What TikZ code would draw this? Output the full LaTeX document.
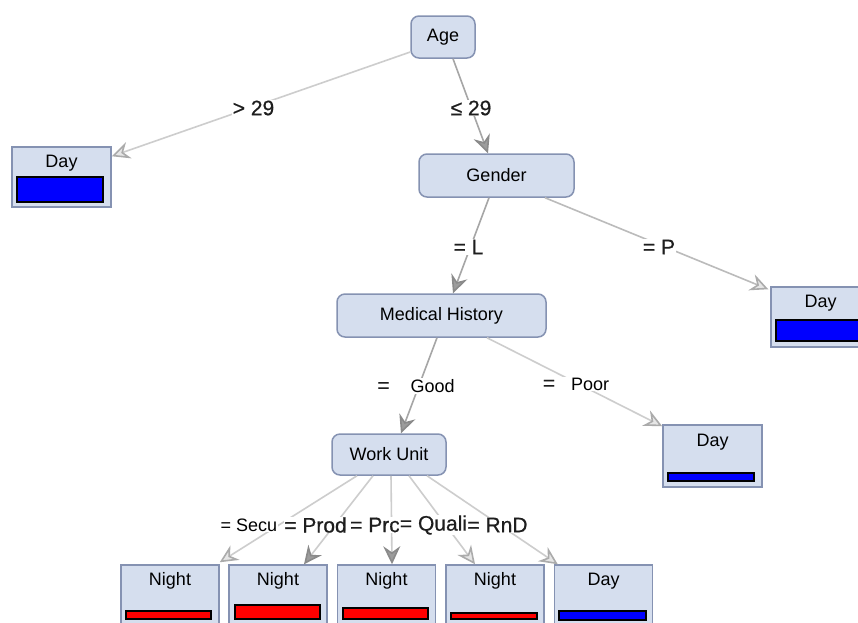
\documentclass[tikz,border=0pt]{standalone}
\usepackage{fontspec}
\setmainfont{Liberation Sans}
\newfontfamily\lblfont[FakeBold=0.6]{Liberation Sans}
\usetikzlibrary{arrows.meta,calc}
\definecolor{nodefill}{HTML}{D5DEEE}
\definecolor{nodeborder}{HTML}{8592B2}
\definecolor{edgelight}{HTML}{CDCDCD}
\definecolor{edgemid}{HTML}{BBBBBB}
\definecolor{edgedark}{HTML}{A6A6A6}
\definecolor{tipdarkfill}{HTML}{9C9C9C}
\definecolor{tipdarkline}{HTML}{8A8A8A}
\definecolor{tiplightfill}{HTML}{E6E6E6}
\definecolor{tiplightline}{HTML}{ABABAB}
\definecolor{labeltext}{HTML}{1E1E1E}
\definecolor{barred}{HTML}{FF0000}
\definecolor{barblue}{HTML}{0000FF}
\begin{document}
\begin{tikzpicture}[x=1pt,y=-1pt,
  decision/.style={draw=nodeborder, fill=nodefill, rounded corners=8pt, line width=1.5pt, inner sep=0pt, font=\fontsize{18}{21}\selectfont},
  leafbox/.style={draw=nodeborder, fill=nodefill, line width=1.5pt, inner sep=0pt},
  leaftext/.style={inner sep=0pt, font=\fontsize{18}{21}\selectfont},
  bar/.style={draw=black, line width=1.3pt},
  darktip/.style={-{Stealth[length=18pt,width=17pt,inset=6pt,color=tipdarkline,fill=tipdarkfill]}},
  lighttip/.style={-{Stealth[length=18pt,width=17pt,inset=6pt,color=tiplightline,fill=tiplightfill]}},
  darkedge/.style={draw=edgedark, line width=1.6pt, darktip},
  midedge/.style={draw=edgemid, line width=1.6pt, lighttip},
  lightedge/.style={draw=edgelight, line width=1.6pt, lighttip},
  elabel/.style={fill=white, inner sep=1pt, text=labeltext, font=\lblfont\fontsize{21}{24}\selectfont},
  plabel/.style={fill=white, inner sep=1pt, font=\fontsize{18}{21}\selectfont}
]
\useasboundingbox (0,0) rectangle (858,622);
\clip (0,0) rectangle (858,622);
\fill[white] (0,0) rectangle (858,622);

% decision nodes
\node[decision, minimum width=64pt, minimum height=42pt] (age) at (443,37) {Age};
\node[decision, minimum width=155pt, minimum height=43pt] (gender) at (496.5,175.5) {Gender};
\node[decision, minimum width=209pt, minimum height=43pt] (mh) at (441.5,315.5) {Medical History};
\node[decision, minimum width=114pt, minimum height=41pt] (wu) at (389,454.5) {Work Unit};

% leaf nodes
\node[leafbox, minimum width=99pt, minimum height=60pt] (d1) at (61.5,177) {};
\node[leafbox, minimum width=99pt, minimum height=60pt] (d2) at (820.5,317) {};
\node[leafbox, minimum width=99pt, minimum height=62pt] (d3) at (712.5,456) {};
\node[leafbox, minimum width=98pt, minimum height=80pt] (n1) at (170,605) {};
\node[leafbox, minimum width=98pt, minimum height=80pt] (n2) at (278,605) {};
\node[leafbox, minimum width=98pt, minimum height=80pt] (n3) at (386.5,605) {};
\node[leafbox, minimum width=98pt, minimum height=80pt] (n4) at (495,605) {};
\node[leafbox, minimum width=98pt, minimum height=80pt] (d4) at (603.5,605) {};

\node[leaftext] (d1t) at ([yshift=-17pt]d1.north) {Day};
\node[leaftext] (d2t) at ([yshift=-17pt]d2.north) {Day};
\node[leaftext] (d3t) at ([yshift=-18pt]d3.north) {Day};
\node[leaftext] (n1t) at ([yshift=-17pt]n1.north) {Night};
\node[leaftext] (n2t) at ([yshift=-17pt]n2.north) {Night};
\node[leaftext] (n3t) at ([yshift=-17pt]n3.north) {Night};
\node[leaftext] (n4t) at ([yshift=-17pt]n4.north) {Night};
\node[leaftext] (d4t) at ([yshift=-17pt]d4.north) {Day};

% bars
\draw[bar, fill=barblue] (17,177) rectangle (103,202);
\draw[bar, fill=barblue] (776,320) rectangle (866,341);
\draw[bar, fill=barblue] (668,473) rectangle (754,481);
\draw[bar, fill=barred] (126,611) rectangle (211,619);
\draw[bar, fill=barred] (235,605) rectangle (320,619);
\draw[bar, fill=barred] (343,608) rectangle (428,619);
\draw[bar, fill=barred] (451,613) rectangle (537,619);
\draw[bar, fill=barblue] (559,611) rectangle (646,620);

% edges
\draw[lightedge] ([yshift=-15pt]age.west) -- ([yshift=-10pt]d1.north east);
\draw[darkedge] ([xshift=10pt]age.south) -- ([xshift=-8.5pt]gender.north);
\draw[darkedge] ([xshift=-7.5pt]gender.south) -- ([xshift=11.5pt]mh.north);
\draw[midedge] ([xshift=48.5pt]gender.south) -- ([xshift=-2pt,yshift=-3pt]d2.north west);
\draw[darkedge] ([xshift=-4.5pt]mh.south) -- ([xshift=12pt]wu.north);
\draw[lightedge] ([xshift=45.5pt]mh.south) -- ([yshift=-2pt]d3.north west);
\draw[lightedge] ([xshift=-32pt]wu.south) -- ([yshift=2pt]n1.north east);
\draw[lightedge, darktip] ([xshift=-16pt]wu.south) -- ([xshift=26pt]n2.north);
\draw[lightedge, darktip] ([xshift=2pt]wu.south) -- ([xshift=5.5pt]n3.north);
\draw[lightedge] ([xshift=20pt]wu.south) -- ([xshift=-20pt]n4.north);
\draw[lightedge] ([xshift=38pt]wu.south) -- ([xshift=4pt]d4.north west);

% edge labels
\node[elabel] (l1) at (253.5,108) {> 29};
\node[elabel] (l2) at (471,108) {≤ 29};
\node[elabel] (l3) at (468.5,247) {= L};
\node[elabel] (l4) at (659,247) {= P};
\node[plabel] (l5) at (416,386) {{\lblfont\fontsize{21}{24}\selectfont\color{labeltext}=}\hspace{21pt}Good};
\node[plabel] (l6) at (576,384) {{\lblfont\fontsize{21}{24}\selectfont\color{labeltext}=}\hspace{16pt}Poor};
\node[plabel] (l7) at (249,525) {= Secu};
\node[elabel, inner sep=0.5pt] (l8) at (315.5,525) {= Prod};
\node[elabel, inner sep=0.5pt] (l9) at (375,525) {= Prc};
\node[elabel, inner sep=0.5pt] (l10) at (433.5,525) {= Quali};
\node[elabel, inner sep=0.5pt] (l11) at (497.5,525) {= RnD};
\end{tikzpicture}
\end{document}
